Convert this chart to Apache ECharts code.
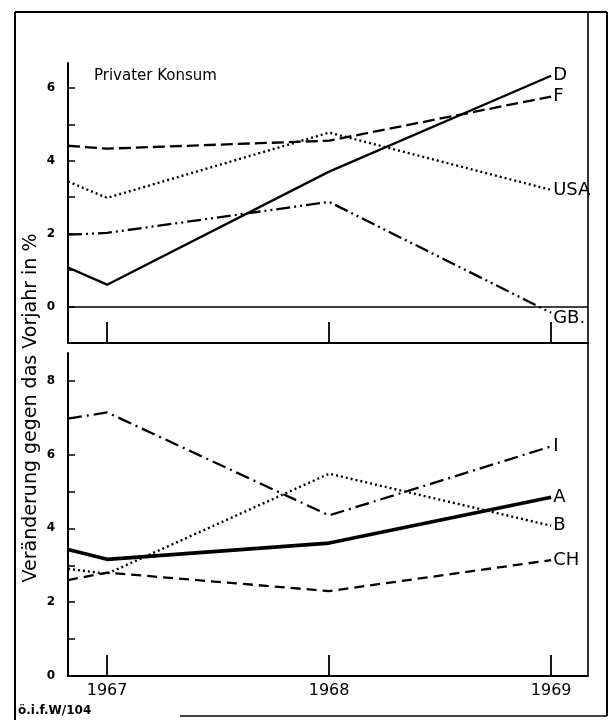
<!DOCTYPE html>
<html>
<head>
<meta charset="utf-8">
<script src="https://cdn.jsdelivr.net/npm/echarts@6/dist/echarts.min.js"></script>
<style>html,body{margin:0;padding:0;background:#fff}#c{width:612px;height:720px}</style>
</head>
<body>
<div id="c"></div>
<script>
// x positions: left edge of the plot, then the three years
var xPoints = [1966.824, 1967, 1968, 1969];
var yearTicks = [1967, 1968, 1969];

// Upper panel: Privater Konsum
var seriesD   = [1.07, 0.60, 3.70, 6.33];
var seriesF   = [4.41, 4.33, 4.55, 5.76];
var seriesUSA = [3.43, 2.98, 4.77, 3.20];
var seriesGB  = [1.97, 2.02, 2.87, -0.17];

// Lower panel
var seriesI  = [6.97, 7.14, 4.35, 6.22];
var seriesA  = [3.43, 3.16, 3.60, 4.84];
var seriesB  = [2.90, 2.77, 5.48, 4.07];
var seriesCH = [2.60, 2.80, 2.30, 3.14];

var topLabels = [0, 2, 4, 6];
var topTicks = [0, 1, 2, 3, 4, 5, 6];
var lowLabels = [0, 2, 4, 6, 8];
var lowTicks = [1, 2, 3, 4, 5, 6, 7, 8];

var FONT = 'DejaVu Sans';
var INK = '#000';
function pts(vals) { return vals.map(function (v, i) { return [xPoints[i], v]; }); }

function mk(name, vals, grid, width, dash, label, offset) {
  return {
    name: name, type: 'line', xAxisIndex: grid, yAxisIndex: grid,
    data: pts(vals), symbol: 'none', smooth: false, silent: true,
    lineStyle: { color: INK, width: width, type: dash, cap: 'butt', join: 'round' },
    endLabel: { show: true, formatter: label, color: INK, fontFamily: FONT, fontSize: 18, distance: 2, offset: offset || [0, 0] },
    z: 3
  };
}

var xCommon = {
  type: 'value', min: 1966.824, max: 1969.166,
  splitLine: { show: false },
  axisLine: { show: true, onZero: false, lineStyle: { color: INK, width: 2 } },
  axisTick: { show: true, inside: true, length: 21, customValues: yearTicks, lineStyle: { color: INK, width: 1.8 } }
};

var option = {
  backgroundColor: '#fff',
  animation: false,
  title: {
    text: 'Privater Konsum', left: 89, top: 64,
    textStyle: { fontFamily: FONT, fontSize: 15, fontWeight: 'normal', color: INK }
  },
  grid: [
    { left: 68, width: 520, top: 63, height: 280 },
    { left: 68, width: 520, top: 353, height: 323 }
  ],
  xAxis: [
    Object.assign({}, xCommon, { gridIndex: 0, axisLabel: { show: false } }),
    Object.assign({}, xCommon, {
      gridIndex: 1,
      axisLabel: { show: true, customValues: yearTicks, margin: 7, color: INK, fontFamily: FONT, fontSize: 16, formatter: function (v) { return String(v); } }
    })
  ],
  yAxis: [
    {
      type: 'value', gridIndex: 0, min: -1, max: 6.68,
      splitLine: { show: false },
      axisLine: { show: true, lineStyle: { color: INK, width: 2 } },
      axisTick: { show: true, inside: true, length: 7, customValues: topTicks, lineStyle: { color: INK, width: 1.5 } },
      axisLabel: { customValues: topLabels, margin: 13, color: INK, fontFamily: FONT, fontSize: 12, fontWeight: 'bold' }
    },
    {
      type: 'value', gridIndex: 1, min: 0, max: 8.75,
      splitLine: { show: false },
      axisLine: { show: true, lineStyle: { color: INK, width: 2 } },
      axisTick: { show: true, inside: true, length: 7, customValues: lowTicks, lineStyle: { color: INK, width: 1.5 } },
      axisLabel: { customValues: lowLabels, margin: 13, color: INK, fontFamily: FONT, fontSize: 12, fontWeight: 'bold' }
    }
  ],
  series: [
    Object.assign(mk('D', seriesD, 0, 2.3, 'solid', 'D'), {
      markLine: { silent: true, symbol: 'none', label: { show: false },
        lineStyle: { color: INK, width: 1.6, type: 'solid' }, data: [{ yAxis: 0 }] }
    }),
    mk('F', seriesF, 0, 2.3, [12, 5], 'F'),
    mk('USA', seriesUSA, 0, 2.4, [2, 3], 'USA'),
    mk('GB', seriesGB, 0, 2.3, [14, 4, 2, 4, 2, 4], 'GB.', [0, 6]),
    mk('I', seriesI, 1, 2.3, [14, 5, 2, 5], 'I'),
    mk('A', seriesA, 1, 3.6, 'solid', 'A'),
    mk('B', seriesB, 1, 2.4, [2, 3], 'B'),
    mk('CH', seriesCH, 1, 2.3, [10, 6], 'CH')
  ],
  graphic: [
    { type: 'line', shape: { x1: 15, y1: 12, x2: 607, y2: 12 }, style: { stroke: INK, lineWidth: 2 } },
    { type: 'line', shape: { x1: 15, y1: 12, x2: 15, y2: 720 }, style: { stroke: INK, lineWidth: 2 } },
    { type: 'line', shape: { x1: 607, y1: 12, x2: 607, y2: 716 }, style: { stroke: INK, lineWidth: 2 } },
    { type: 'line', shape: { x1: 180, y1: 716, x2: 607, y2: 716 }, style: { stroke: INK, lineWidth: 1.5 } },
    { type: 'line', shape: { x1: 588, y1: 12, x2: 588, y2: 676 }, style: { stroke: INK, lineWidth: 1.6 } },
    {
      type: 'text', x: 31, y: 408, rotation: Math.PI / 2,
      style: { text: 'Veränderung gegen das Vorjahr in %', fontFamily: FONT, fontSize: 19, fill: INK, align: 'center', verticalAlign: 'middle' }
    },
    {
      type: 'text', x: 18, y: 711,
      style: { text: 'ö.i.f.W/104', fontFamily: FONT, fontSize: 12, fontWeight: 'bold', fill: INK, align: 'left', verticalAlign: 'middle' }
    }
  ]
};

var chart = echarts.init(document.getElementById('c'));
chart.setOption(option);
</script>
</body>
</html>
